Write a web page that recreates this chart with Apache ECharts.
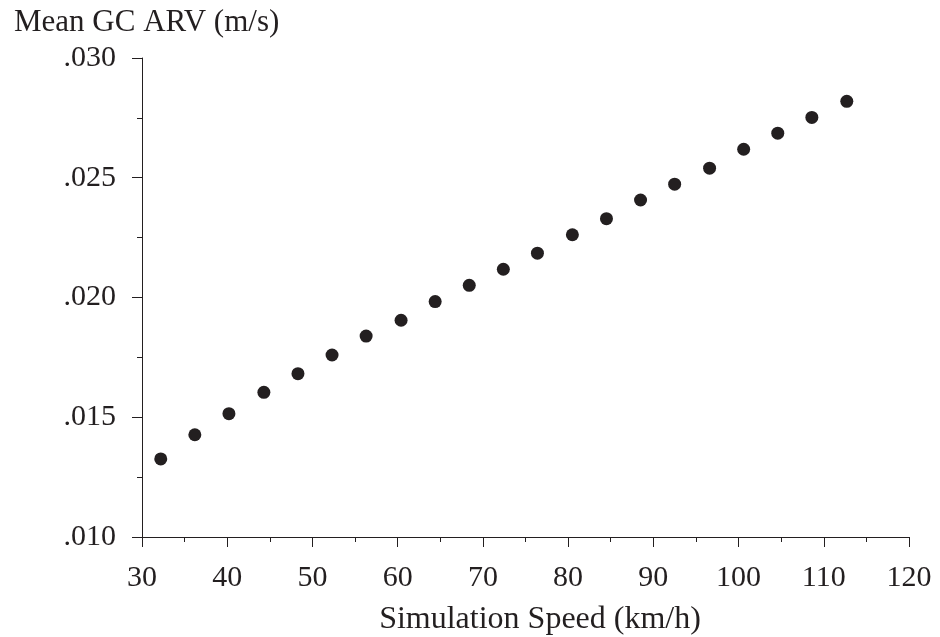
<!DOCTYPE html>
<html>
<head>
<meta charset="utf-8">
<script src="https://cdn.jsdelivr.net/npm/echarts@6/dist/echarts.min.js"></script>
<style>
html,body{margin:0;padding:0;background:#fff;}
#c{width:940px;height:637px;}
</style>
</head>
<body>
<div id="c"></div>
<script>
const speeds = [32.2, 36.2, 40.2, 44.3, 48.3, 52.3, 56.3, 60.4, 64.4, 68.4, 72.4, 76.4, 80.5, 84.5, 88.5, 92.5, 96.6, 100.6, 104.6, 108.6, 112.7];
const meanGcArv = [0.01326, 0.01427, 0.01515, 0.01604, 0.01682, 0.01760, 0.01839, 0.01905, 0.01983, 0.02051, 0.02118, 0.02185, 0.02262, 0.02329, 0.02407, 0.02473, 0.02540, 0.02619, 0.02686, 0.02752, 0.02819];
const yTitle = 'Mean GC ARV (m/s)';
const xTitle = 'Simulation Speed (km/h)';

const ink = '#231f20';
const font = '"Liberation Serif", "Times New Roman", serif';
const chart = echarts.init(document.getElementById('c'), null, {renderer: 'canvas'});
chart.setOption({
  animation: false,
  backgroundColor: '#fff',
  title: {
    text: yTitle, left: 9, top: 2,
    textStyle: {fontFamily: font, fontSize: 31, fontWeight: 'normal', color: ink}
  },
  grid: {left: 142, right: 31, top: 58, bottom: 100, containLabel: false, outerBoundsMode: 'none'},
  xAxis: {
    type: 'value', min: 30, max: 120, interval: 10,
    name: xTitle, nameLocation: 'middle', nameGap: 67,
    nameTextStyle: {fontFamily: font, fontSize: 32, color: ink, padding: [0, 0, 0, 29]},
    axisLine: {show: true, onZero: false, lineStyle: {color: ink, width: 1}},
    axisTick: {show: true, inside: false, length: 10, lineStyle: {color: ink}},
    minorTick: {show: true, splitNumber: 2, length: 5, lineStyle: {color: ink}},
    splitLine: {show: false},
    axisLabel: {fontFamily: font, fontSize: 30, color: ink, margin: 26}
  },
  yAxis: {
    type: 'value', min: 0.010, max: 0.030, interval: 0.005,
    axisLine: {show: true, onZero: false, lineStyle: {color: ink, width: 1}},
    axisTick: {show: true, inside: false, length: 10, lineStyle: {color: ink}},
    minorTick: {show: true, splitNumber: 2, length: 5, lineStyle: {color: ink}},
    splitLine: {show: false},
    axisLabel: {fontFamily: font, fontSize: 30, color: ink, margin: 26,
      formatter: v => v.toFixed(3).replace(/^0/, '')}
  },
  series: [{
    type: 'scatter',
    data: speeds.map((s, i) => [s, meanGcArv[i]]),
    symbol: 'circle', symbolSize: 13,
    itemStyle: {color: ink, opacity: 1}
  }]
});
</script>
</body>
</html>
